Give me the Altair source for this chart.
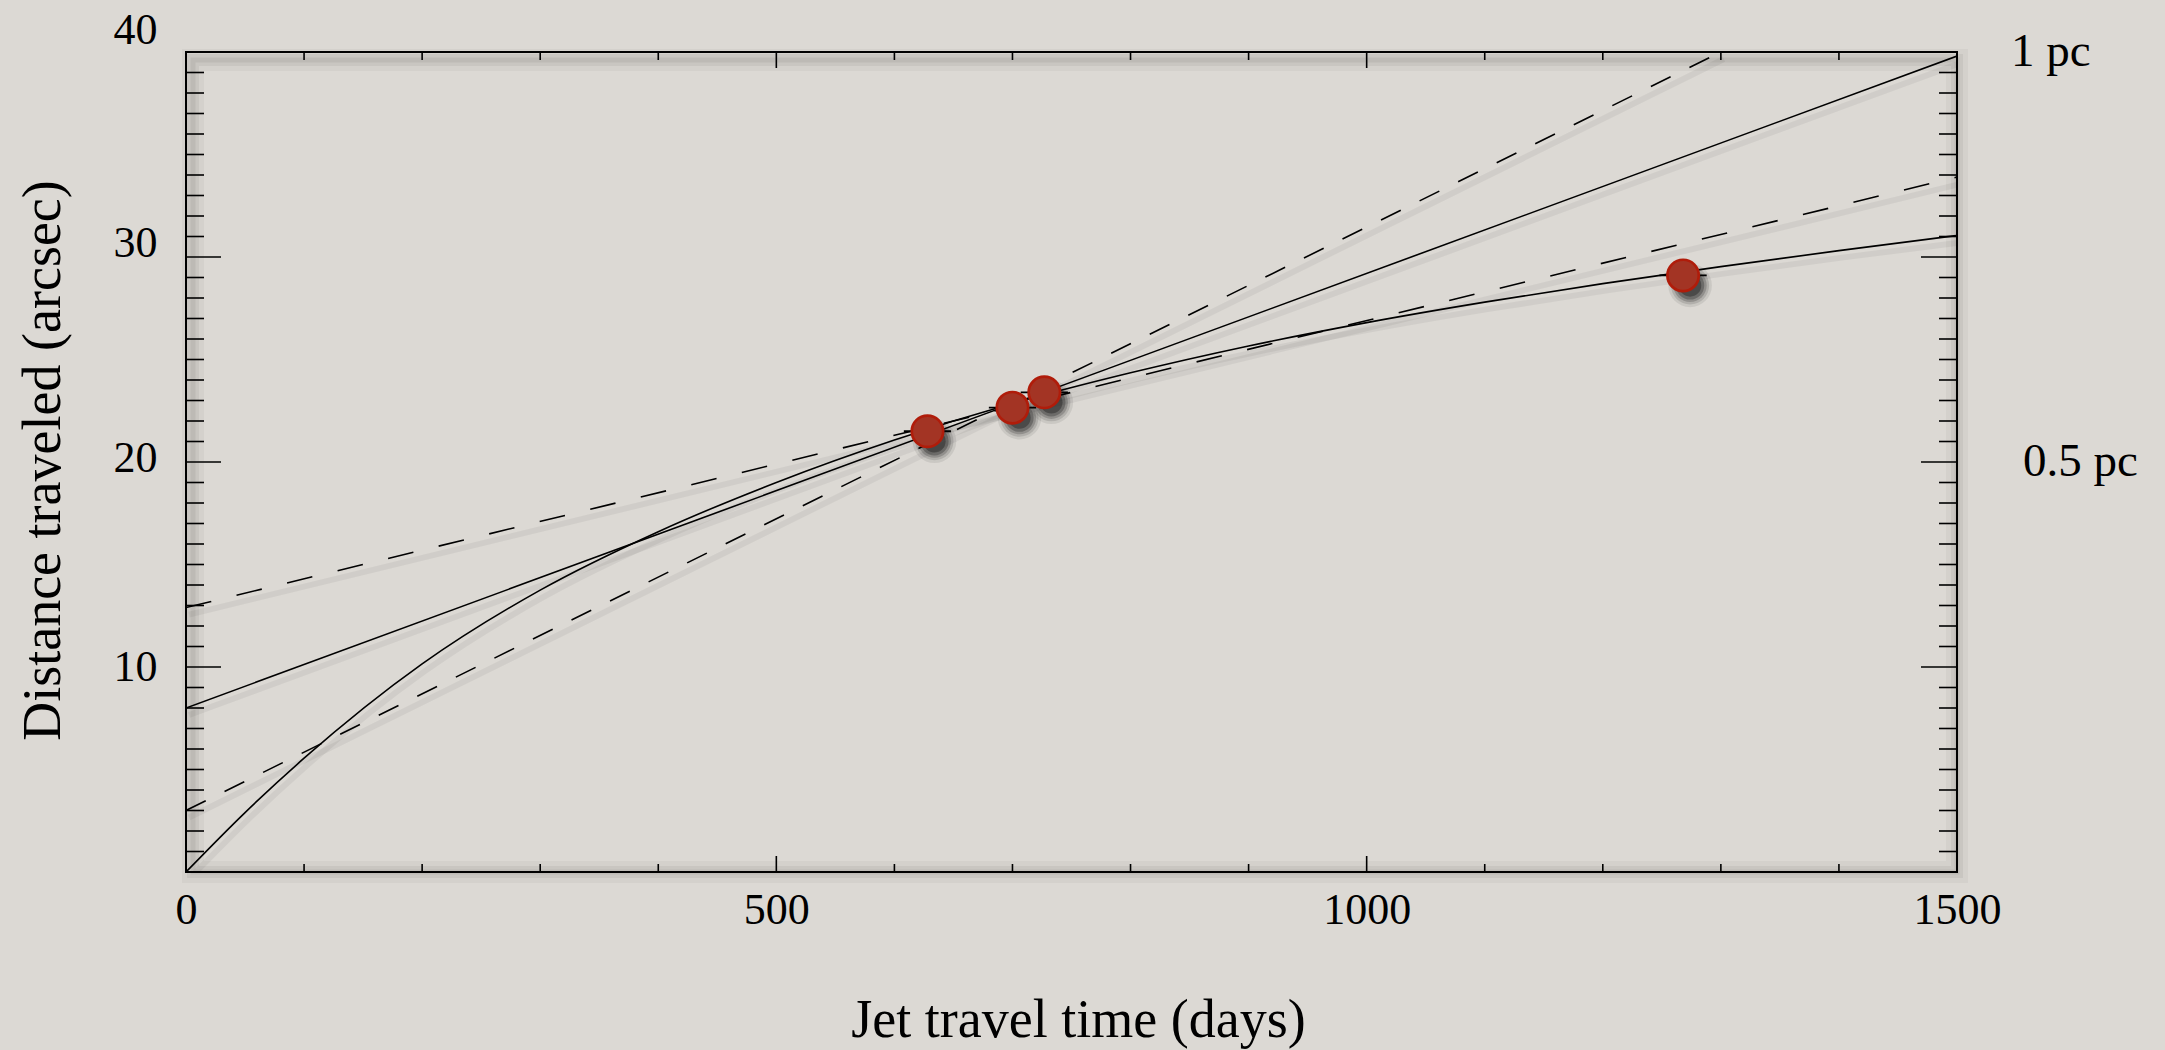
import altair as alt
import pandas as pd

SERIF = "Liberation Serif"
W, H = 1771, 820

# Measured knot positions (days since ejection, arcsec) and timing uncertainty
jet_days = [628, 700, 727, 1268]
jet_dist = [21.5, 22.65, 23.4, 29.1]
jet_err_days = [20, 20, 20, 20]

# Constant-speed fit
fit_days = [0, 1500]
fit_dist = [8.0, 39.8]

# Bounding constant-speed lines
steep_days = [0, 1300]
steep_dist = [3.0, 40.0]
shallow_days = [0, 1500]
shallow_dist = [12.9, 33.9]

# Decelerating-jet model
decel_days = [0, 50, 100, 200, 300, 400, 500, 600, 700, 800, 900, 1000,
              1100, 1200, 1300, 1400, 1500]
decel_dist = [0, 2.9, 5.55, 10.15, 13.75, 16.6, 19.0, 21.07, 22.85, 24.35,
              25.66, 26.8, 27.8, 28.7, 29.53, 30.31, 31.05]

# Axis labelling
x_tick_labels = [0, 500, 1000, 1500]
y_tick_labels = [10, 20, 30, 40]
x_minor = [v for v in range(100, 1500, 100) if v % 500]
x_major = [500, 1000]
y_minor = [v for v in range(1, 40) if v % 10]
y_major = [10, 20, 30]
scale_values = [40, 20]
scale_labels = ["1 pc", "0.5 pc"]

xs = alt.Scale(domain=[0, 1500], nice=False, zero=False)
ys = alt.Scale(domain=[0, 40], nice=False, zero=False)

knots = pd.DataFrame({"t": jet_days, "d": jet_dist, "e": jet_err_days})
knots["lo"] = knots["t"] - knots["e"]
knots["hi"] = knots["t"] + knots["e"]

x_axis = alt.Axis(
    values=x_tick_labels, format="d", title="Jet travel time (days)", domain=False,
    ticks=False, grid=False, labelFont=SERIF, labelFontSize=44, labelPadding=16,
    labelBaseline="top", labelColor="black", labelFlush=False, labelOverlap=False,
    titleFont=SERIF, titleFontSize=54, titleFontWeight="normal", titleColor="black",
    titleX=892, titleY=148, titleBaseline="middle", titleAlign="center",
)
y_axis = alt.Axis(
    values=y_tick_labels, format="d", title="Distance traveled (arcsec)", domain=False,
    ticks=False, grid=False, labelFont=SERIF, labelFontSize=44, labelPadding=29,
    labelBaseline="middle", labelColor="black", labelFlush=False, labelOverlap=False,
    titleFont=SERIF, titleFontSize=54, titleFontWeight="normal", titleColor="black",
    titleX=-143, titleY=408, titleBaseline="middle", titleAlign="center",
    labelOffset={
        "condition": [
            {"test": "datum.value === 40", "value": -22},
            {"test": "datum.value === 30", "value": -14},
            {"test": "datum.value === 20", "value": -4},
        ],
        "value": 0,
    },
)


def X(field):
    return alt.X(field, scale=xs, axis=x_axis)


def Y(field):
    return alt.Y(field, scale=ys, axis=y_axis)


one = alt.Data(values=[{}])

# Soft shadow under the frame
frame_shadow = [
    alt.Chart(one).mark_rect(filled=False, stroke="black", strokeWidth=sw,
                             strokeOpacity=op, xOffset=7, yOffset=8).encode(
        x=alt.value(0), x2=alt.value(W), y=alt.value(0), y2=alt.value(H))
    for sw, op in [(22, 0.035), (12, 0.05), (5, 0.06)]
]


def ticks(values, side, length):
    df = pd.DataFrame({"v": values})
    c = alt.Chart(df).mark_rule(color="black", strokeWidth=1.6)
    if side == "left":
        return c.encode(y=Y("v:Q"), x=alt.value(0), x2=alt.value(length))
    if side == "right":
        return c.encode(y=Y("v:Q"), x=alt.value(W - length), x2=alt.value(W))
    if side == "bottom":
        return c.encode(x=X("v:Q"), y=alt.value(H - length), y2=alt.value(H))
    return c.encode(x=X("v:Q"), y=alt.value(0), y2=alt.value(length))


tick_layers = [
    ticks(y_minor, "left", 18), ticks(y_major, "left", 35),
    ticks(y_minor, "right", 18), ticks(y_major, "right", 36),
    ticks(x_minor, "bottom", 8), ticks(x_major, "bottom", 16),
    ticks(x_minor, "top", 8), ticks(x_major, "top", 16),
]


def curve(days, dist, dash=None, interp="linear"):
    df = pd.DataFrame({"t": days, "d": dist})
    enc = dict(x=X("t:Q"), y=Y("d:Q"))
    shadow = alt.Chart(df).mark_line(clip=True, color="black", strokeWidth=6, opacity=0.05,
                                     xOffset=3, yOffset=7, interpolate=interp).encode(**enc)
    kw = dict(clip=True, color="black", strokeWidth=1.6, interpolate=interp)
    if dash:
        kw["strokeDash"] = dash
    line = alt.Chart(df).mark_line(**kw).encode(**enc)
    return shadow, line


fit_sh, fit_ln = curve(fit_days, fit_dist)
steep_sh, steep_ln = curve(steep_days, steep_dist, dash=[22, 21])
shallow_sh, shallow_ln = curve(shallow_days, shallow_dist, dash=[26, 26])
decel_sh, decel_ln = curve(decel_days, decel_dist, interp="monotone")

errbars = alt.Chart(knots).mark_rule(color="black", strokeWidth=1.8).encode(
    x=X("lo:Q"), x2="hi:Q", y=Y("d:Q"))

pt_enc = dict(x=X("t:Q"), y=Y("d:Q"))
pt_shadows = [
    alt.Chart(knots).mark_circle(size=s, color="black", opacity=o, xOffset=7, yOffset=10).encode(**pt_enc)
    for s, o in [(1900, 0.08), (1450, 0.12), (1100, 0.18), (800, 0.25), (500, 0.3)]
]
points = alt.Chart(knots).mark_circle(
    size=985, color="#a33424", opacity=1, stroke="#b01c0a", strokeWidth=2.7).encode(**pt_enc)

# Physical scale on the right-hand side
pc = pd.DataFrame({"v": scale_values, "label": scale_labels})
pc_text = [
    alt.Chart(pc).transform_filter(alt.datum.v == v).mark_text(
        align="left", baseline="middle", font=SERIF, fontSize=47, color="black").encode(
        y=Y("v:Q"), x=alt.value(W + off), text="label:N")
    for v, off in [(40, 54), (20, 66)]
]

chart = alt.layer(
    *frame_shadow, *tick_layers,
    fit_sh, steep_sh, shallow_sh, decel_sh,
    fit_ln, steep_ln, shallow_ln, decel_ln,
    errbars, *pt_shadows, points, *pc_text,
).properties(
    width=W, height=H,
    padding={"left": 186, "top": 52, "right": 2165 - 186 - W, "bottom": 1050 - 52 - H},
    autosize=alt.AutoSizeParams(type="none"),
).configure(background="#dcd9d4").configure_view(stroke="black", strokeWidth=2)

chart.save("out.html", embed_options={"renderer": "svg", "actions": False})
